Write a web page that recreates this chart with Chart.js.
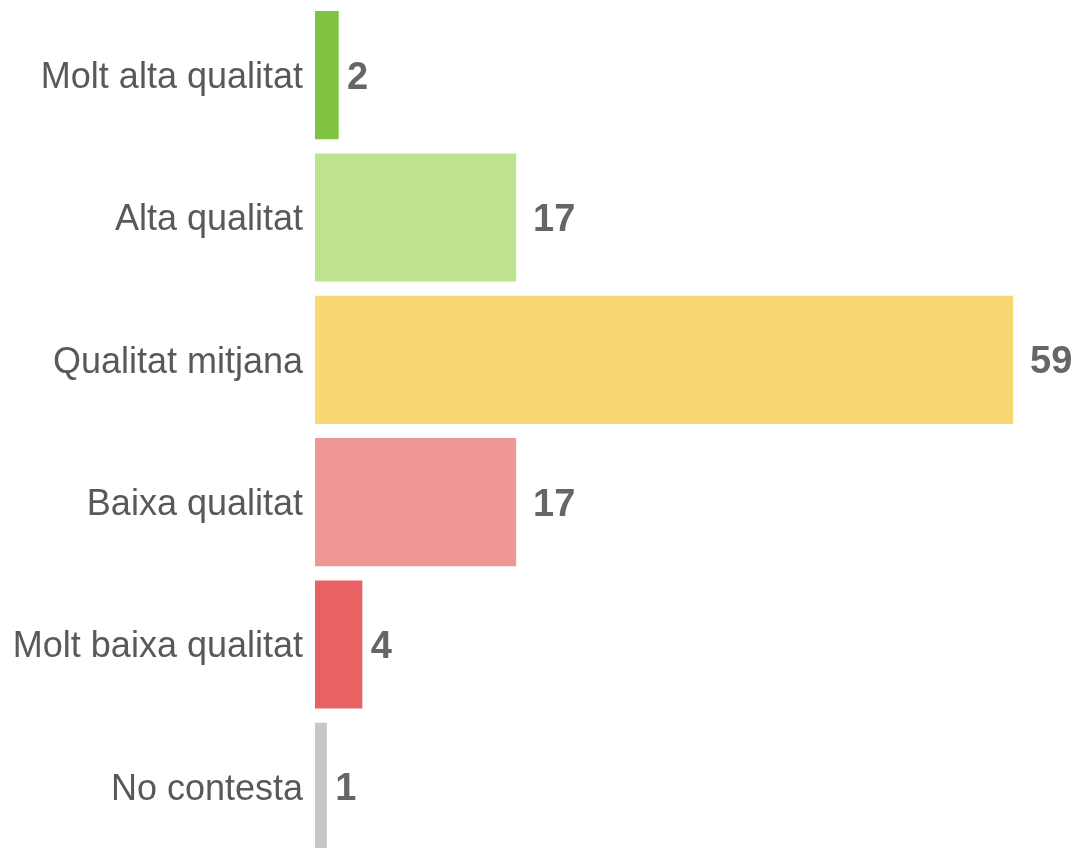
<!DOCTYPE html>
<html>
<head>
<meta charset="utf-8">
<script src="https://cdn.jsdelivr.net/npm/chart.js@4"></script>
<style>
  html, body { margin: 0; padding: 0; background: #ffffff; overflow: hidden; }
  #main-chart { display: block; }
</style>
</head>
<body>
<canvas id="main-chart"></canvas>
<script>
const chart_width = 1076;
const chart_height = 860;

const categories = [
    "Molt alta qualitat",
    "Alta qualitat",
    "Qualitat mitjana",
    "Baixa qualitat",
    "Molt baixa qualitat",
    "No contesta"
];
const values = [2, 17, 59, 17, 4, 1];
const bar_colors = ["#80c342", "#bde390", "#f8d873", "#ef9696", "#e86163", "#c6c6c6"];

const font_family = "'Liberation Sans', Arial, sans-serif";

// draws the number just after the end of each bar
const value_labels = {
    id: 'valueLabels',
    afterDatasetsDraw(chart) {
        const ctx = chart.ctx;
        const meta = chart.getDatasetMeta(0);
        ctx.save();
        ctx.font = "bold 38px " + font_family;
        ctx.fillStyle = "#666666";
        ctx.textBaseline = "middle";
        ctx.textAlign = "left";
        meta.data.forEach((bar, i) => {
            const txt = String(values[i]);
            const w = ctx.measureText(txt).width;
            ctx.fillText(txt, bar.x + 0.4 * w, bar.y + 3);
        });
        ctx.restore();
    }
};

let main_chart = document.getElementById("main-chart");
main_chart.width = chart_width;
main_chart.height = chart_height;
let chart_ctx = main_chart.getContext('2d');

const config = {
    type: 'bar',
    data: {
        labels: categories,
        datasets: [{
            data: values,
            backgroundColor: bar_colors,
            borderWidth: 0,
            barPercentage: 0.9,
            categoryPercentage: 1.0
        }]
    },
    options: {
        indexAxis: 'y',
        responsive: false,
        animation: false,
        layout: {
            padding: { top: 4, bottom: 2, left: 0, right: 51 }
        },
        plugins: {
            legend: { display: false },
            tooltip: { enabled: false }
        },
        scales: {
            x: {
                display: false,
                min: 0,
                max: 60
            },
            y: {
                afterFit: function(scale) {
                    scale.width = 315;
                    scale.paddingTop = 0;
                    scale.paddingBottom = 0;
                },
                grid: { display: false, drawTicks: false },
                border: { display: false },
                ticks: {
                    padding: 12,
                    labelOffset: 3,
                    color: "#595959",
                    font: { family: font_family, size: 36 }
                }
            }
        }
    },
    plugins: [value_labels]
};

new Chart(chart_ctx, config);
</script>
</body>
</html>
